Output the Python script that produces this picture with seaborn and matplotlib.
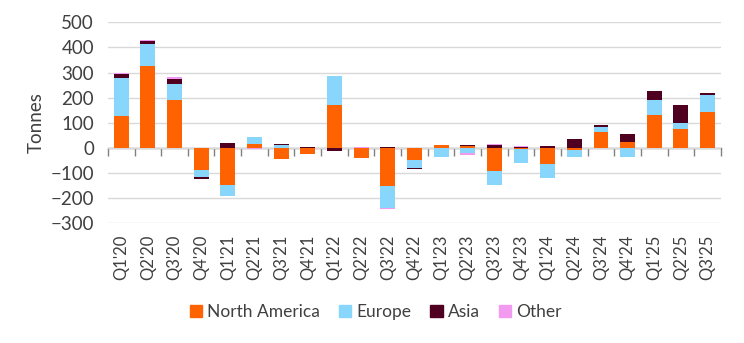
import numpy as np
import pandas as pd
import matplotlib
matplotlib.use("Agg")
import matplotlib.pyplot as plt
import seaborn as sns

quarters = ["Q1'20", "Q2'20", "Q3'20", "Q4'20", "Q1'21", "Q2'21", "Q3'21", "Q4'21",
            "Q1'22", "Q2'22", "Q3'22", "Q4'22", "Q1'23", "Q2'23", "Q3'23", "Q4'23",
            "Q1'24", "Q2'24", "Q3'24", "Q4'24", "Q1'25", "Q2'25", "Q3'25"]

north_america = [129, 327, 192, -86, -146, 17, -45, -26, 172, -41, -150, -50,
                 10, 8, -93, -5, -65, -8, 62, 25, 132, 74, 141]
europe = [151, 88, 64, -28, -46, 28, 13, 0, 113, 0, -90, -30,
          -37, -20, -55, -55, -56, -29, 20, -38, 57, 24, 68]
asia = [16, 10, 19, -9, 18, 0, 2, 4, -13, 0, 2, -5,
        0, 4, 13, 5, 9, 34, 8, 32, 36, 71, 10]
other = [2, 5, 8, -2, 2, -4, 0, 0, 2, 2, -5, 0,
         2, -8, 4, 3, 0, 0, 2, 0, 2, 3, 0]

series = {"North America": north_america, "Europe": europe, "Asia": asia, "Other": other}
colors = {"North America": "#FF6200", "Europe": "#89D6FD", "Asia": "#4F0021", "Other": "#F19AF0"}

sns.set_theme(style="white")
plt.rcParams["font.family"] = ["Lato", "DejaVu Sans"]

fig = plt.figure(figsize=(7.44, 3.43), dpi=100)
ax = fig.add_axes([0.145, 0.349, 0.824, 0.586])

# Stacked bars: positive and negative parts stack away from zero separately.
names = list(series.keys())
vals = np.array([series[n] for n in names], dtype=float)
pos_cum = np.cumsum(np.clip(vals, 0, None), axis=0)
neg_cum = np.cumsum(np.clip(vals, None, 0), axis=0)

for k in reversed(range(len(names))):
    for cum in (pos_cum[k], neg_cum[k]):
        df = pd.DataFrame({"quarter": quarters, "value": cum})
        sns.barplot(data=df, x="quarter", y="value", order=quarters, color=colors[names[k]],
                    saturation=1, width=0.56, ax=ax, errorbar=None, linewidth=0)

ax.set_ylim(-300, 500)
ax.set_xlim(-0.5, len(quarters) - 0.5)
ax.set_yticks(range(-300, 501, 100))
ax.yaxis.grid(True, color="#d9d9d9", linewidth=1)
ax.set_axisbelow(True)
for s in ax.spines.values():
    s.set_visible(False)

ax.tick_params(axis="y", length=0, pad=10, labelsize=13.5, labelcolor="#404040")
ax.tick_params(axis="x", length=0, pad=8, labelsize=12, labelcolor="#404040", rotation=90)
ax.set_xlabel("")
ax.set_ylabel("Tonnes", fontsize=13.5, color="#404040", labelpad=4)

# Category axis line through zero with boundary tick marks
zero_axis = ax.secondary_xaxis(300 / 800)
zero_axis.set_xticks(np.arange(-0.5, len(quarters)))
zero_axis.set_xticklabels([])
zero_axis.tick_params(axis="x", direction="out", length=6, width=1, color="#808080")
zero_axis.spines["bottom"].set_color("#808080")
zero_axis.spines["bottom"].set_linewidth(1)
for side in ("top", "left", "right"):
    zero_axis.spines[side].set_visible(False)

handles = [plt.Rectangle((0, 0), 1, 1, color=colors[n]) for n in names]
fig.legend(handles, names, loc="center", bbox_to_anchor=(0.505, 0.09), ncol=4, frameon=False,
           fontsize=12.5, handlelength=0.7, handleheight=0.7, handletextpad=0.3,
           columnspacing=1.1, labelcolor="#404040")

fig.savefig("out.png", dpi=100)
